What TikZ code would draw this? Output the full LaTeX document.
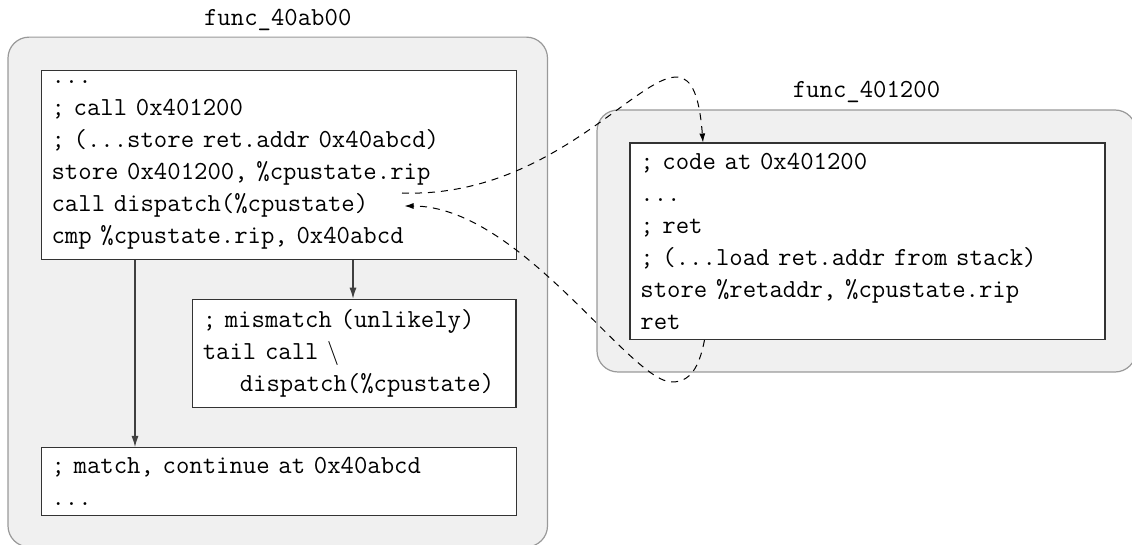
\documentclass[tikz,border=0pt]{standalone}
\usetikzlibrary{arrows.meta}
\newcommand{\codefont}{\ttfamily\fontsize{13}{16}\selectfont}
\begin{document}
\begin{tikzpicture}[x=0.5pt,y=-0.5pt,
  funcbox/.style={draw=black!40, fill=black!6, rounded corners=10.5pt,
    line width=0.6pt, inner sep=0pt},
  codebox/.style={draw=black!80, fill=white, line width=0.6pt,
    anchor=north west, align=left, inner xsep=5.25pt, inner ysep=5pt,
    font=\codefont},
  widebox/.style={codebox, minimum width=237.5pt, text width=227pt},
  functitle/.style={font=\codefont, anchor=base, inner sep=0pt},
  flow/.style={-{Latex[length=5.5pt,width=3.5pt]}, line width=0.6pt, draw=black!75},
  ctrl/.style={dash pattern=on 3.5pt off 3pt, line width=0.5pt,
    -{Latex[length=4.5pt,width=3pt]}}]
\useasboundingbox (0,0) rectangle (1132,545);

% function frames
\node[funcbox, minimum width=269.75pt, minimum height=254.85pt] (fL) at (277.75,292) {};
\node[funcbox, minimum width=269.5pt, minimum height=131pt] (fR) at (866.5,241) {};
\node[functitle] (tL) at (277.75,26) {func\_40ab00};
\node[functitle] (tR) at (866.5,98) {func\_401200};

% caller blocks
\node[widebox] (A) at (40.5,70) {...\\
; call 0x401200\\
; (...store ret.addr 0x40abcd)\\
store 0x401200, \%cpustate.rip\\
call dispatch(\%cpustate)\\
cmp \%cpustate.rip, 0x40abcd};

\node[codebox, minimum width=161.85pt, text width=151.35pt] (B) at (191.7,298.7)
  {; mismatch (unlikely)\\
tail call $\backslash$\\
\hspace*{18.5pt}dispatch(\%cpustate)};

\node[widebox] (C) at (40.5,447) {; match, continue at 0x40abcd\\
...};

% callee block
\node[widebox] (D) at (629.3,142.5) {; code at 0x401200\\
...\\
; ret\\
; (...load ret.addr from stack)\\
store \%retaddr, \%cpustate.rip\\
ret};

% branches after the compare
\draw[flow] ([xshift=47.25pt]A.south west) -- ([xshift=47.25pt]C.north west);
\draw[flow] ([xshift=156.25pt]A.south west) -- ([xshift=156.25pt]A.south west |- B.north);

% call into the callee and return to the dispatcher
\coordinate (callsite) at (402,193);
\coordinate (retsite) at (404.5,206);
\draw[ctrl] (callsite) .. controls (600,200) and (690,-25) .. ([xshift=36.85pt]D.north west);
\draw[ctrl] ([xshift=37.6pt]D.south west) .. controls (699,368) and (690,382) .. (672,382)
  .. controls (630,382) and (520,206) .. (retsite);
\end{tikzpicture}
\end{document}
